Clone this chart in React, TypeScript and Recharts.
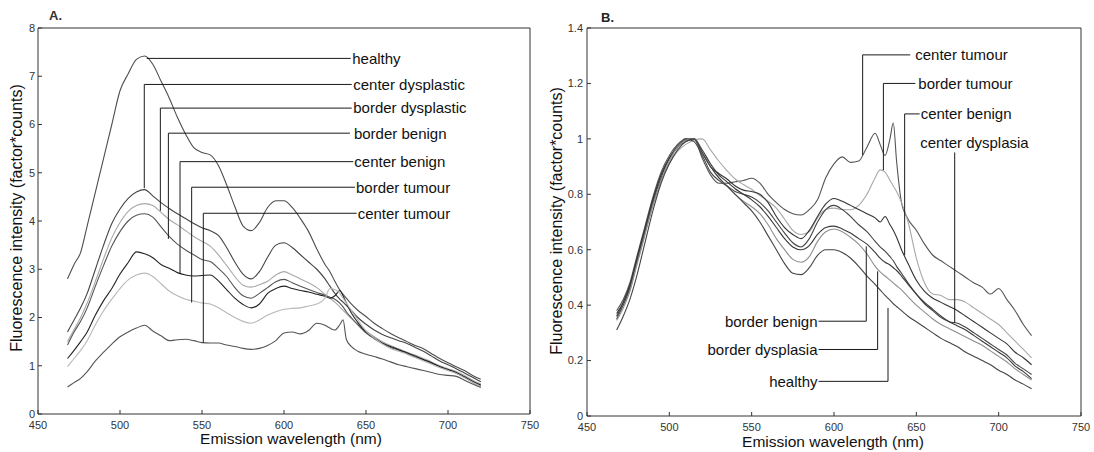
import React from 'react';
import { LineChart, Line, XAxis, YAxis, ReferenceLine, ReferenceDot } from 'recharts';

// Shared wavelength grid (nm)
const wavelengths = [468, 472, 476, 480, 485, 490, 495, 500, 505, 510, 515, 520, 525, 530, 535, 540, 545, 550, 555, 560, 565, 570, 575, 580, 585, 590, 595, 600, 605, 610, 615, 620, 625, 628, 631, 634, 636, 638, 641, 645, 650, 655, 660, 665, 670, 675, 680, 685, 690, 695, 700, 705, 710, 715, 720];

// Panel A – absolute intensities
const aHealthy = [2.8, 3.1, 3.35, 3.9, 4.6, 5.3, 6.0, 6.7, 7.05, 7.35, 7.42, 7.25, 6.9, 6.55, 6.15, 5.8, 5.52, 5.42, 5.37, 5.15, 4.75, 4.3, 3.9, 3.8, 3.97, 4.28, 4.42, 4.42, 4.28, 4.05, 3.78, 3.42, 3.1, 2.95, 2.75, 2.57, 2.48, 2.4, 2.28, 2.15, 2.02, 1.88, 1.77, 1.67, 1.58, 1.5, 1.42, 1.35, 1.25, 1.15, 1.06, 0.98, 0.9, 0.8, 0.72];
const aCenterDysplastic = [1.7, 1.95, 2.2, 2.5, 3.0, 3.5, 3.95, 4.25, 4.47, 4.6, 4.65, 4.52, 4.38, 4.26, 4.15, 4.05, 3.95, 3.86, 3.8, 3.7, 3.45, 3.15, 2.9, 2.8, 2.95, 3.25, 3.5, 3.55, 3.45, 3.3, 3.15, 3.0, 2.8, 2.65, 2.5, 2.38, 2.32, 2.25, 2.15, 2.0, 1.86, 1.74, 1.65, 1.58, 1.52, 1.46, 1.38, 1.3, 1.2, 1.1, 1.02, 0.94, 0.85, 0.76, 0.67];
const aBorderDysplastic = [1.5, 1.75, 2.0, 2.3, 2.75, 3.22, 3.65, 3.97, 4.2, 4.32, 4.36, 4.32, 4.18, 4.03, 3.92, 3.8, 3.68, 3.58, 3.48, 3.3, 3.08, 2.85, 2.67, 2.63, 2.68, 2.75, 2.88, 2.95, 2.88, 2.8, 2.72, 2.62, 2.48, 2.4, 2.32, 2.22, 2.15, 2.08, 1.98, 1.85, 1.72, 1.6, 1.5, 1.42, 1.35, 1.28, 1.22, 1.15, 1.08, 1.0, 0.94, 0.88, 0.8, 0.7, 0.62];
const aBorderBenign = [1.43, 1.7, 1.92, 2.2, 2.65, 3.08, 3.48, 3.78, 4.0, 4.12, 4.15, 4.08, 3.88, 3.68, 3.52, 3.4, 3.3, 3.2, 3.16, 3.02, 2.85, 2.62, 2.45, 2.4, 2.5, 2.62, 2.74, 2.79, 2.72, 2.65, 2.58, 2.52, 2.46, 2.42, 2.38, 2.3, 2.22, 2.12, 2.0, 1.85, 1.68, 1.56, 1.46, 1.38, 1.32, 1.25, 1.18, 1.12, 1.05, 0.98, 0.92, 0.85, 0.76, 0.66, 0.58];
const aCenterBenign = [1.15, 1.32, 1.5, 1.7, 2.05, 2.35, 2.6, 2.9, 3.14, 3.36, 3.32, 3.24, 3.1, 3.02, 2.93, 2.88, 2.86, 2.87, 2.88, 2.76, 2.58, 2.4, 2.27, 2.2, 2.28, 2.5, 2.6, 2.65, 2.6, 2.56, 2.53, 2.48, 2.44, 2.4, 2.45, 2.56, 2.45, 2.3, 2.1, 1.9, 1.7, 1.58, 1.47, 1.4, 1.33, 1.27, 1.2, 1.13, 1.06, 0.98, 0.92, 0.86, 0.77, 0.68, 0.6];
const aBorderTumour = [0.98, 1.15, 1.32, 1.52, 1.85, 2.14, 2.38, 2.6, 2.78, 2.88, 2.92, 2.85, 2.7, 2.55, 2.45, 2.38, 2.34, 2.3, 2.28, 2.2, 2.1, 2.0, 1.92, 1.88, 1.95, 2.05, 2.12, 2.17, 2.19, 2.2, 2.24, 2.28, 2.4, 2.6, 2.58, 2.5, 2.4, 2.3, 2.15, 1.95, 1.72, 1.58, 1.45, 1.36, 1.3, 1.24, 1.17, 1.1, 1.03, 0.96, 0.9, 0.84, 0.75, 0.66, 0.57];
const aCenterTumour = [0.56, 0.65, 0.74, 0.88, 1.1, 1.28, 1.45, 1.6, 1.7, 1.78, 1.84, 1.72, 1.62, 1.52, 1.54, 1.55, 1.52, 1.48, 1.47, 1.47, 1.43, 1.4, 1.36, 1.34, 1.36, 1.42, 1.52, 1.68, 1.7, 1.66, 1.73, 1.88, 1.84, 1.78, 1.74, 1.85, 1.95, 1.55, 1.4, 1.3, 1.24, 1.19, 1.14, 1.08, 1.02, 0.98, 0.94, 0.9, 0.86, 0.82, 0.8, 0.78, 0.7, 0.62, 0.55];

// Panel B – normalised intensities
const bCenterTumour = [0.38, 0.42, 0.48, 0.57, 0.68, 0.79, 0.88, 0.94, 0.98, 1.0, 1.0, 0.93, 0.87, 0.84, 0.84, 0.845, 0.85, 0.858, 0.84, 0.8, 0.77, 0.745, 0.73, 0.725, 0.745, 0.78, 0.86, 0.91, 0.935, 0.915, 0.92, 0.97, 1.02, 0.98, 0.94, 1.0, 1.057, 0.92, 0.77, 0.71, 0.67, 0.62, 0.58, 0.56, 0.54, 0.52, 0.5, 0.48, 0.465, 0.44, 0.46, 0.42, 0.38, 0.33, 0.29];
const bBorderTumour = [0.36, 0.4, 0.45, 0.54, 0.65, 0.76, 0.85, 0.91, 0.955, 0.98, 0.995, 1.0, 0.96, 0.92, 0.885, 0.855, 0.835, 0.818, 0.795, 0.775, 0.75, 0.71, 0.67, 0.655, 0.665, 0.715, 0.745, 0.75, 0.745, 0.744, 0.76, 0.8, 0.86, 0.888, 0.88, 0.85, 0.83, 0.81, 0.77, 0.7, 0.57, 0.48, 0.44, 0.435, 0.42, 0.42, 0.41, 0.39, 0.37, 0.35, 0.33, 0.3, 0.27, 0.24, 0.21];
const bCenterBenign = [0.37, 0.41, 0.47, 0.56, 0.67, 0.78, 0.87, 0.93, 0.97, 0.99, 1.0, 0.95, 0.9, 0.875, 0.855, 0.83, 0.815, 0.81, 0.8, 0.77, 0.72, 0.68, 0.655, 0.64, 0.67, 0.72, 0.765, 0.785, 0.775, 0.76, 0.745, 0.73, 0.715, 0.7, 0.72, 0.69, 0.67, 0.645, 0.6, 0.55, 0.49, 0.45, 0.425, 0.41, 0.395, 0.38, 0.36, 0.34, 0.32, 0.3, 0.28, 0.26, 0.23, 0.21, 0.185];
const bCenterDysplasia = [0.35, 0.4, 0.46, 0.55, 0.66, 0.77, 0.86, 0.93, 0.97, 1.0, 0.99, 0.94, 0.88, 0.85, 0.83, 0.81, 0.8, 0.79, 0.77, 0.74, 0.7, 0.66, 0.625, 0.61, 0.64, 0.7, 0.745, 0.76, 0.745, 0.72, 0.69, 0.665, 0.63, 0.61, 0.595, 0.575, 0.56, 0.54, 0.515, 0.48, 0.44, 0.405, 0.38, 0.355, 0.34, 0.335, 0.32, 0.3, 0.28, 0.26, 0.24, 0.22, 0.19, 0.17, 0.15];
const bBorderBenign = [0.36, 0.41, 0.47, 0.56, 0.67, 0.78, 0.87, 0.93, 0.975, 0.995, 1.0, 0.96, 0.91, 0.87, 0.845, 0.82, 0.8, 0.78, 0.755, 0.72, 0.68, 0.64, 0.61, 0.6, 0.615, 0.655, 0.68, 0.685, 0.675, 0.66, 0.64, 0.62, 0.59, 0.57, 0.555, 0.545, 0.535, 0.525, 0.505, 0.475, 0.44, 0.41, 0.385, 0.36, 0.34, 0.325, 0.31, 0.29, 0.27, 0.25, 0.23, 0.21, 0.18, 0.16, 0.135];
const bBorderDysplasia = [0.345, 0.39, 0.45, 0.54, 0.65, 0.76, 0.85, 0.92, 0.97, 0.995, 1.0, 0.95, 0.9, 0.86, 0.83, 0.8, 0.775, 0.755, 0.73, 0.69, 0.64, 0.6, 0.565, 0.555, 0.575, 0.63, 0.665, 0.675, 0.665, 0.645, 0.62, 0.585, 0.54, 0.52, 0.505, 0.49, 0.48, 0.47, 0.455, 0.43, 0.4, 0.375, 0.35, 0.33, 0.315, 0.3, 0.285, 0.27, 0.255, 0.235, 0.215, 0.195, 0.17, 0.15, 0.13];
const bHealthy = [0.31, 0.36, 0.42, 0.5, 0.62, 0.74, 0.84, 0.91, 0.96, 0.99, 1.0, 0.95, 0.9, 0.86, 0.83, 0.8, 0.77, 0.74, 0.7, 0.65, 0.6, 0.55, 0.515, 0.51, 0.535, 0.58, 0.6, 0.6, 0.59, 0.57, 0.54, 0.505, 0.475, 0.455, 0.435, 0.418, 0.405, 0.395, 0.38, 0.36, 0.34, 0.32, 0.3, 0.28, 0.265, 0.25, 0.23, 0.215, 0.2, 0.185, 0.165, 0.15, 0.13, 0.115, 0.098];

// Axis ticks
const xTicks = [450, 500, 550, 600, 650, 700, 750];
const aYTicks = [0, 1, 2, 3, 4, 5, 6, 7, 8];
const bYTicks = [0, 0.2, 0.4, 0.6, 0.8, 1, 1.2, 1.4];

const xTitle = 'Emission wavelength (nm)';
const yTitle = 'Fluorescence intensity (factor*counts)';

interface SeriesDef { key: string; values: number[]; color: string }

const seriesA: SeriesDef[] = [
  { key: 'healthy', values: aHealthy, color: '#4d4d4d' },
  { key: 'centerDysplastic', values: aCenterDysplastic, color: '#444444' },
  { key: 'borderDysplastic', values: aBorderDysplastic, color: '#a8a8a8' },
  { key: 'borderBenign', values: aBorderBenign, color: '#555555' },
  { key: 'centerBenign', values: aCenterBenign, color: '#222222' },
  { key: 'borderTumour', values: aBorderTumour, color: '#b8b8b8' },
  { key: 'centerTumour', values: aCenterTumour, color: '#555555' },
];

const seriesB: SeriesDef[] = [
  { key: 'centerTumour', values: bCenterTumour, color: '#555555' },
  { key: 'borderTumour', values: bBorderTumour, color: '#a8a8a8' },
  { key: 'centerBenign', values: bCenterBenign, color: '#333333' },
  { key: 'centerDysplasia', values: bCenterDysplasia, color: '#444444' },
  { key: 'borderBenign', values: bBorderBenign, color: '#3a3a3a' },
  { key: 'borderDysplasia', values: bBorderDysplasia, color: '#8f8f8f' },
  { key: 'healthy', values: bHealthy, color: '#444444' },
];

// Leader-line annotations (data coordinates)
interface Note { name: string; lineX: number; yCurve: number; yLine: number; lineEnd: number; textX: number; textY: number; side: 'left' | 'right'; gap: number }

const notesA: Note[] = [
  { name: 'healthy', lineX: 516.3, yCurve: 7.37, yLine: 7.37, lineEnd: 640.7, textX: 640.7, textY: 7.37, side: 'right', gap: 1.5 },
  { name: 'center dysplastic', lineX: 514.8, yCurve: 4.68, yLine: 6.83, lineEnd: 641.3, textX: 641.3, textY: 6.83, side: 'right', gap: 1.5 },
  { name: 'border dysplastic', lineX: 524.6, yCurve: 4.21, yLine: 6.34, lineEnd: 641.3, textX: 641.3, textY: 6.34, side: 'right', gap: 1.5 },
  { name: 'border benign', lineX: 529.5, yCurve: 3.63, yLine: 5.82, lineEnd: 640.2, textX: 640.2, textY: 5.82, side: 'right', gap: 4 },
  { name: 'center benign', lineX: 536.6, yCurve: 2.9, yLine: 5.23, lineEnd: 642.3, textX: 642.3, textY: 5.23, side: 'right', gap: 1 },
  { name: 'border tumour', lineX: 543.7, yCurve: 2.31, yLine: 4.7, lineEnd: 643.3, textX: 643.3, textY: 4.7, side: 'right', gap: 1 },
  { name: 'center tumour', lineX: 550.8, yCurve: 1.48, yLine: 4.16, lineEnd: 644.3, textX: 644.3, textY: 4.16, side: 'right', gap: 1 },
];

const notesB: Note[] = [
  { name: 'center tumour', lineX: 617.4, yCurve: 0.942, yLine: 1.303, lineEnd: 646.3, textX: 646.3, textY: 1.303, side: 'right', gap: 5 },
  { name: 'border tumour', lineX: 630, yCurve: 0.887, yLine: 1.2, lineEnd: 649.4, textX: 649.4, textY: 1.2, side: 'right', gap: 3 },
  { name: 'center benign', lineX: 642.9, yCurve: 0.58, yLine: 1.09, lineEnd: 652.0, textX: 652.0, textY: 1.09, side: 'right', gap: 1 },
  { name: 'center dysplasia', lineX: 673.3, yCurve: 0.336, yLine: 0.951, lineEnd: 673.3, textX: 652.4, textY: 0.986, side: 'right', gap: 0 },
  { name: 'border benign', lineX: 619.6, yCurve: 0.612, yLine: 0.342, lineEnd: 590.6, textX: 590.6, textY: 0.342, side: 'left', gap: 1 },
  { name: 'border dysplasia', lineX: 626.5, yCurve: 0.522, yLine: 0.24, lineEnd: 590.6, textX: 590.6, textY: 0.24, side: 'left', gap: 1 },
  { name: 'healthy', lineX: 632.8, yCurve: 0.39, yLine: 0.125, lineEnd: 590.6, textX: 590.6, textY: 0.125, side: 'left', gap: 1 },
];

const buildRows = (series: SeriesDef[]) =>
  wavelengths.map((wl, i) => {
    const row: Record<string, number> = { wl };
    series.forEach((s) => { row[s.key] = s.values[i]; });
    return row;
  });

const rowsA = buildRows(seriesA);
const rowsB = buildRows(seriesB);

const AXIS = '#333333';
const tickStyle = { fontSize: 11, fill: '#333333' };

const renderLines = (series: SeriesDef[]) =>
  series.map((s) => (
    <Line key={s.key} dataKey={s.key} type="monotone" stroke={s.color} strokeWidth={1.1}
      dot={false} activeDot={false} isAnimationActive={false} />
  ));

const renderNotes = (notes: Note[], prefix: string) =>
  notes.flatMap((n, i) => {
    const els: React.ReactNode[] = [];
    if (n.yCurve !== n.yLine) {
      els.push(
        <ReferenceLine key={`${prefix}v${i}`} segment={[{ x: n.lineX, y: n.yCurve }, { x: n.lineX, y: n.yLine }]}
          stroke="#1a1a1a" strokeWidth={1} ifOverflow="visible" />
      );
    }
    if (n.lineX !== n.lineEnd) {
      els.push(
        <ReferenceLine key={`${prefix}h${i}`} segment={[{ x: n.lineX, y: n.yLine }, { x: n.lineEnd, y: n.yLine }]}
          stroke="#1a1a1a" strokeWidth={1} ifOverflow="visible" />
      );
    }
    els.push(
      <ReferenceDot key={`${prefix}t${i}`} x={n.textX} y={n.textY} r={0} stroke="none" fill="none" ifOverflow="visible"
        label={{ value: n.name, position: n.side, offset: n.gap, fill: '#111111', fontSize: 15 }} />
    );
    return els;
  });

const makeXTitle = (x: number, y: number) => () => (
  <text x={x} y={y} textAnchor="middle" fontSize={15.5} fill="#111111">{xTitle}</text>
);
const makeYTitle = (x: number, y: number) => () => (
  <text x={x} y={y} textAnchor="middle" fontSize={16} fill="#111111" transform={`rotate(-90, ${x}, ${y})`}>{yTitle}</text>
);

export default function App() {
  return (
    <div style={{ position: 'absolute', left: 0, top: 0, width: 1094, height: 452, background: '#ffffff', fontFamily: '"Liberation Sans", Arial, sans-serif' }}>
      <div style={{ position: 'absolute', left: 0, top: 0 }}>
        <LineChart width={547} height={452} data={rowsA} margin={{ top: 27, right: 16, bottom: 37, left: 37 }}>
          <XAxis dataKey="wl" type="number" domain={[450, 750]} ticks={xTicks} interval={0} allowDataOverflow height={1}
            tickSize={-4} tickMargin={11} tick={tickStyle} stroke={AXIS} label={makeXTitle(291, 444)} />
          <XAxis xAxisId="top" orientation="top" type="number" domain={[450, 750]} ticks={xTicks} interval={0} allowDataOverflow
            height={1} tickSize={-4} tick={false} stroke={AXIS} />
          <YAxis type="number" domain={[0, 8]} ticks={aYTicks} interval={0} allowDataOverflow width={1}
            tickSize={-4} tickMargin={7} tick={tickStyle} stroke={AXIS} label={makeYTitle(21.5, 218)} />
          <YAxis yAxisId="right" orientation="right" type="number" domain={[0, 8]} ticks={aYTicks} interval={0} allowDataOverflow
            width={1} tickSize={-4} tick={false} stroke={AXIS} />
          {renderLines(seriesA)}
          {renderNotes(notesA, 'a')}
        </LineChart>
      </div>
      <div style={{ position: 'absolute', left: 547, top: 0 }}>
        <LineChart width={547} height={452} data={rowsB} margin={{ top: 27, right: 12, bottom: 35, left: 39 }}>
          <XAxis dataKey="wl" type="number" domain={[450, 750]} ticks={xTicks} interval={0} allowDataOverflow height={1}
            tickSize={-4} tickMargin={11} tick={tickStyle} stroke={AXIS} label={makeXTitle(286, 447)} />
          <XAxis xAxisId="top" orientation="top" type="number" domain={[450, 750]} ticks={xTicks} interval={0} allowDataOverflow
            height={1} tickSize={-4} tick={false} stroke={AXIS} />
          <YAxis type="number" domain={[0, 1.4]} ticks={bYTicks} interval={0} allowDataOverflow width={1}
            tickSize={-4} tickMargin={8} tick={tickStyle} stroke={AXIS} label={makeYTitle(14.5, 221)} />
          <YAxis yAxisId="right" orientation="right" type="number" domain={[0, 1.4]} ticks={bYTicks} interval={0} allowDataOverflow
            width={1} tickSize={-4} tick={false} stroke={AXIS} />
          {renderLines(seriesB)}
          {renderNotes(notesB, 'b')}
        </LineChart>
      </div>
      <svg width={1094} height={452} style={{ position: 'absolute', left: 0, top: 0, pointerEvents: 'none' }}>
        <text x={49} y={20} fontSize={13} fontWeight="bold" fill="#333333">A.</text>
        <text x={601} y={22} fontSize={13} fontWeight="bold" fill="#222222">B.</text>
      </svg>
    </div>
  );
}
